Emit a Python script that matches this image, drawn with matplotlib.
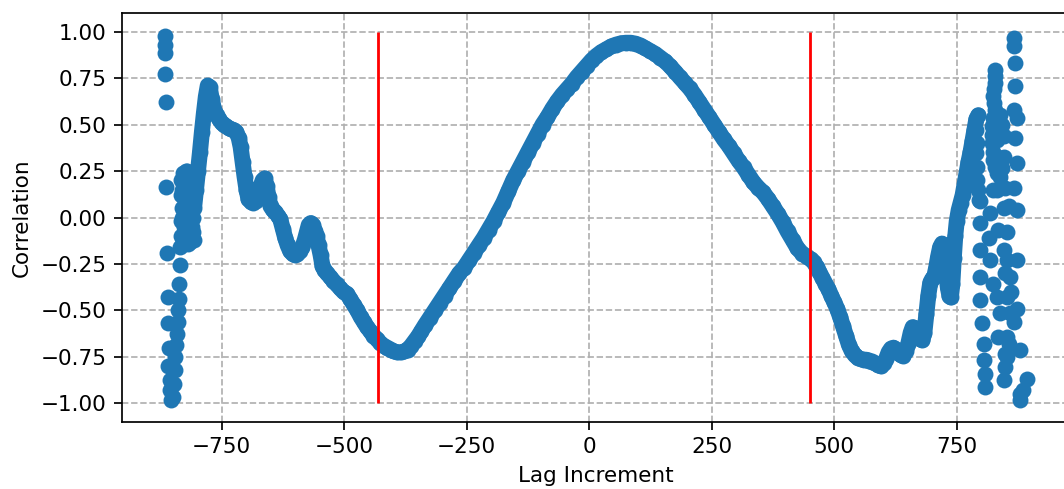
import numpy as np
import matplotlib.pyplot as plt

# lag increments and correlation values of the main cross-correlation curve
lag_main = [-806, -802, -798, -794, -790, -786, -782, -778, -774, -770,
            -765, -760, -755, -750, -745, -740, -735, -730, -725, -720,
            -715, -711, -707, -703, -699, -695, -690, -685, -680, -675,
            -670, -666, -662, -658, -654, -650, -645, -640, -635, -630,
            -625, -620, -615, -610, -605, -600, -595, -590, -585, -580,
            -576, -572, -568, -564, -560, -556, -552, -548, -544, -540,
            -535, -528, -522, -515, -508, -501, -494, -487, -480, -473,
            -466, -460, -453, -447, -440, -433, -426, -419, -412, -405,
            -398, -391, -384, -377, -370, -363, -356, -349, -342, -335,
            -325, -315, -305, -295, -285, -275, -265, -255, -245, -235,
            -225, -215, -205, -195, -185, -175, -165, -155, -145, -135,
            -125, -115, -105, -95, -85, -75, -65, -55, -45, -35,
            -25, -15, -5, 5, 15, 25, 35, 45, 55, 65,
            75, 85, 95, 105, 115, 125, 135, 145, 155, 165,
            175, 185, 195, 205, 215, 225, 235, 245, 255, 265,
            275, 285, 295, 305, 315, 325, 335, 345, 355, 365,
            375, 385, 395, 405, 415, 425, 435, 445, 452, 458,
            464, 470, 476, 482, 488, 494, 500, 506, 512, 518,
            524, 530, 536, 542, 548, 554, 560, 566, 572, 578,
            584, 590, 596, 601, 606, 611, 616, 621, 626, 631,
            636, 641, 646, 651, 656, 660, 664, 668, 672, 676,
            680, 684, 688, 692, 696, 700, 704, 708, 712, 716,
            720, 723, 726, 729, 732, 735, 738, 741, 744, 747,
            750, 754, 758, 762, 766, 770, 774, 778, 782, 786,
            790, 794]
corr_main = [0.05, 0.15, 0.25, 0.35, 0.46, 0.56, 0.65, 0.71, 0.70, 0.64,
             0.58, 0.55, 0.53, 0.51, 0.50, 0.49, 0.48, 0.475, 0.47, 0.46,
             0.43, 0.38, 0.30, 0.22, 0.15, 0.10, 0.085, 0.08, 0.09, 0.12,
             0.17, 0.20, 0.21, 0.17, 0.11, 0.06, 0.04, 0.03, 0.01, -0.01,
             -0.06, -0.11, -0.15, -0.18, -0.195, -0.20, -0.195, -0.18, -0.16, -0.12,
             -0.08, -0.04, -0.03, -0.04, -0.07, -0.10, -0.15, -0.20, -0.26, -0.28,
             -0.30, -0.32, -0.34, -0.36, -0.38, -0.40, -0.41, -0.44, -0.47, -0.50,
             -0.535, -0.56, -0.59, -0.61, -0.635, -0.655, -0.675, -0.69, -0.70, -0.71,
             -0.72, -0.725, -0.725, -0.72, -0.71, -0.69, -0.665, -0.64, -0.61, -0.58,
             -0.54, -0.50, -0.46, -0.42, -0.38, -0.34, -0.30, -0.27, -0.23, -0.19,
             -0.15, -0.11, -0.065, -0.02, 0.03, 0.08, 0.14, 0.20, 0.25, 0.30,
             0.35, 0.40, 0.45, 0.50, 0.54, 0.585, 0.625, 0.66, 0.69, 0.72,
             0.755, 0.785, 0.815, 0.845, 0.87, 0.89, 0.905, 0.92, 0.93, 0.937,
             0.94, 0.94, 0.935, 0.925, 0.91, 0.895, 0.88, 0.86, 0.84, 0.815,
             0.785, 0.755, 0.725, 0.695, 0.66, 0.62, 0.58, 0.54, 0.50, 0.46,
             0.42, 0.385, 0.345, 0.305, 0.27, 0.23, 0.19, 0.16, 0.135, 0.10,
             0.06, 0.02, -0.025, -0.075, -0.12, -0.165, -0.195, -0.21, -0.225, -0.24,
             -0.265, -0.295, -0.325, -0.355, -0.385, -0.42, -0.455, -0.49, -0.535, -0.585,
             -0.635, -0.685, -0.72, -0.74, -0.755, -0.76, -0.765, -0.765, -0.77, -0.775,
             -0.785, -0.795, -0.80, -0.785, -0.76, -0.725, -0.705, -0.70, -0.71, -0.73,
             -0.74, -0.745, -0.72, -0.68, -0.62, -0.59, -0.595, -0.61, -0.63, -0.655,
             -0.66, -0.62, -0.52, -0.42, -0.35, -0.33, -0.32, -0.27, -0.21, -0.16,
             -0.14, -0.17, -0.23, -0.31, -0.38, -0.42, -0.43, -0.36, -0.22, -0.10,
             -0.02, 0.04, 0.08, 0.12, 0.18, 0.24, 0.30, 0.35, 0.41, 0.47,
             0.53, 0.55]

# noisy estimates at the largest negative lags
lag_left = [-866, -866, -866, -866, -864, -863, -861, -860, -859, -858,
            -859, -856, -855, -854,
            -848, -846, -845, -844, -842, -841, -839, -838, -837, -836,
            -835, -834,
            -833, -833, -832, -832, -831, -830, -830, -829, -829, -827,
            -827, -826, -826, -825, -824, -824, -823, -823, -821, -821,
            -820, -820, -819, -818, -818, -817, -817, -815, -815, -814,
            -814, -813, -812, -812, -811, -811, -809, -809, -808, -808,
            -806, -806]
corr_left = [0.975, 0.93, 0.885, 0.77, 0.62, 0.166, -0.19, -0.43, -0.57, -0.70,
             -0.80, -0.876, -0.93, -0.98,
             -0.966, -0.894, -0.822, -0.75, -0.687, -0.624, -0.562, -0.499, -0.436, -0.355,
             -0.256, -0.157,
             0.12, -0.02, 0.20, -0.10, 0.05, 0.0, 0.15, 0.24, -0.12, 0.22,
             -0.14, 0.15, -0.05, 0.08, 0.0, 0.12, 0.25, -0.08, 0.25, -0.03,
             0.18, -0.12, 0.03, 0.13, -0.14, 0.22, -0.10, 0.24, 0.0, 0.10,
             -0.13, 0.07, -0.10, 0.14, 0.20, -0.05, 0.22, 0.0, 0.05, -0.08,
             -0.12, 0.12]

# noisy estimates at the largest positive lags
lag_right = [790, 791, 790, 791, 792, 794, 796,
             798, 798, 798, 798, 798, 801, 805, 805, 808, 808,
             829, 829, 829, 827, 825, 827, 829, 825, 822, 822, 822, 823, 825, 828,
             832, 825, 818, 815, 818, 825, 832, 839, 835, 849, 849, 846,
             832, 846, 835, 846, 842, 839, 849, 832, 846, 835, 852, 846, 852,
             859, 852, 859, 866, 852, 852,
             838, 842, 856, 860, 848, 856,
             866, 866, 869, 869, 866, 873, 869, 873, 866, 873, 873, 873, 880,
             893, 886, 880, 880]
corr_right = [0.47, 0.40, 0.346, 0.274, 0.20, 0.15, 0.094,
              0.09, -0.031, -0.175, -0.319, -0.445, -0.57, -0.678, -0.768, -0.84, -0.912,
              0.795, 0.76, 0.723, 0.69, 0.651, 0.615, 0.58, 0.535, 0.49, 0.445, 0.40, 0.355, 0.31, 0.27,
              0.238, 0.148, 0.023, -0.112, -0.229, -0.355, -0.427, -0.516, -0.643, -0.732, -0.804, -0.876,
              0.418, 0.436, 0.328, 0.328, 0.265, 0.22, 0.157, 0.148, 0.05, -0.067, -0.076, -0.175, -0.229,
              -0.319, -0.427, -0.516, -0.562, -0.643, -0.75,
              0.55, 0.50, 0.06, -0.40, -0.30, -0.68,
              0.966, 0.921, 0.831, 0.705, 0.58, 0.535, 0.427, 0.292, 0.157, 0.04, -0.229, -0.49, -0.714,
              -0.868, -0.93, -0.95, -0.984]

# lag window boundaries
bounds = [-430, 450]

DPI = 155
dot = 7.4  # marker diameter in points

fig = plt.figure(figsize=(1064 / DPI, 489 / DPI), dpi=DPI)
ax = fig.add_axes([0.1142, 0.137, 0.8914, 0.8364])

# the main curve is so densely sampled that the dots merge into one band
ax.plot(lag_main, corr_main, color='#1f77b4', linewidth=dot,
        solid_capstyle='round', solid_joinstyle='round')
ax.scatter(lag_main, corr_main, s=dot ** 2, color='#1f77b4', linewidths=0)
ax.scatter(lag_left, corr_left, s=dot ** 2, color='#1f77b4', linewidths=0)
ax.scatter(lag_right, corr_right, s=dot ** 2, color='#1f77b4', linewidths=0)
ax.vlines(bounds, -1, 1, colors='red', linewidth=1.3, zorder=3)

ax.set_xlim(-954, 981)
ax.set_ylim(-1.1, 1.1)
ax.set_xticks([-750, -500, -250, 0, 250, 500, 750])
ax.set_yticks([-1.0, -0.75, -0.5, -0.25, 0.0, 0.25, 0.5, 0.75, 1.0])
ax.set_axisbelow(True)
ax.grid(True, linestyle='--', color='#b0b0b0', linewidth=0.8)
ax.set_xlabel('Lag Increment')
ax.set_ylabel('Correlation')

fig.savefig('out.png', dpi=DPI)
